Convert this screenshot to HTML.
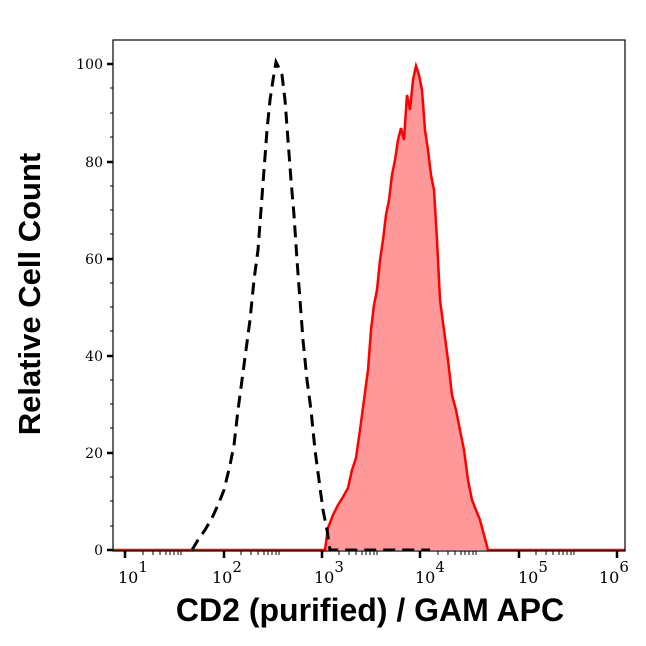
<!DOCTYPE html>
<html><head><style>body{margin:0;background:#fff}</style></head><body>
<svg width="646" height="641" xmlns="http://www.w3.org/2000/svg" font-family="DejaVu Serif, Liberation Serif, serif">
<rect width="646" height="641" fill="#fff"/>
<polygon fill="#ff9999" stroke="none" points="113,550 325,550 328,528 333,515 338,505 343,497 348,488 352,470 356,458 360,430 364,400 368,370 371,330 374,305 377,290 380,260 383,240 386,215 389,200 392,175 395,160 398,140 401,128 404,140 407,95 410,110 413,80 416,66 419,75 422,90 425,130 428,150 431,175 434,190 437,240 440,300 444,330 448,360 452,395 456,410 460,430 464,450 468,480 472,500 476,510 480,520 484,535 488,550 625,550"/>
<polyline fill="none" stroke="#ff0000" stroke-width="2.5" points="113,550 325,550 328,528 333,515 338,505 343,497 348,488 352,470 356,458 360,430 364,400 368,370 371,330 374,305 377,290 380,260 383,240 386,215 389,200 392,175 395,160 398,140 401,128 404,140 407,95 410,110 413,80 416,66 419,75 422,90 425,130 428,150 431,175 434,190 437,240 440,300 444,330 448,360 452,395 456,410 460,430 464,450 468,480 472,500 476,510 480,520 484,535 488,550 625,550"/>
<polyline fill="none" stroke="#000" stroke-width="3" stroke-dasharray="12,7" points="192,550 198,540 205,530 212,518 218,505 224,490 230,465 234,445 238,410 242,380 246,350 250,320 254,280 258,250 261,210 264,170 267,130 270,100 273,80 276,62 279,68 282,75 285,100 288,140 291,180 294,215 297,260 300,300 303,340 307,380 311,410 315,450 319,480 323,510 327,530 330,550 430,550"/>
<rect x="113" y="40" width="512" height="511" fill="none" stroke="#000" stroke-width="1.2"/>
<g stroke="#000" stroke-width="1">
<path d="M107 550H113M107 453H113M107 356H113M107 259H113M107 162H113M107 64H113" stroke-width="2.5"/>
<path d="M110 526H113M110 501H113M110 477H113M110 428H113M110 404H113M110 380H113M110 331H113M110 307H113M110 283H113M110 234H113M110 210H113M110 186H113M110 137H113M110 113H113M110 88H113"/>
<path d="M125 551V558M224 551V558M322 551V558M420 551V558M519 551V558M617 551V558" stroke-width="2.5"/>
<path d="M143 551V555M153 551V555M160 551V555M166 551V555M170 551V555M174 551V555M178 551V555M181 551V555M241 551V555M251 551V555M258 551V555M264 551V555M268 551V555M272 551V555M276 551V555M279 551V555M339 551V555M349 551V555M356 551V555M362 551V555M366 551V555M370 551V555M374 551V555M377 551V555M438 551V555M448 551V555M455 551V555M461 551V555M465 551V555M469 551V555M473 551V555M476 551V555M536 551V555M546 551V555M553 551V555M559 551V555M563 551V555M567 551V555M571 551V555M574 551V555"/>
</g>
<g font-size="14" text-anchor="end">
<text x="103" y="555">0</text><text x="103" y="458">20</text><text x="103" y="361">40</text><text x="103" y="264">60</text><text x="103" y="167">80</text><text x="103" y="69">100</text>
</g>
<g font-size="16">
<text x="118" y="583">10<tspan dy="-11" font-size="15">1</tspan></text>
<text x="212" y="583">10<tspan dy="-11" font-size="15">2</tspan></text>
<text x="314" y="583">10<tspan dy="-11" font-size="15">3</tspan></text>
<text x="415" y="583">10<tspan dy="-11" font-size="15">4</tspan></text>
<text x="518" y="583">10<tspan dy="-11" font-size="15">5</tspan></text>
<text x="599" y="583">10<tspan dy="-11" font-size="15">6</tspan></text>
</g>
<text x="370" y="621" text-anchor="middle" font-family="Liberation Sans, sans-serif" font-weight="bold" font-size="32">CD2 (purified) / GAM APC</text>
<text transform="translate(40,294) rotate(-90)" text-anchor="middle" font-family="Liberation Sans, sans-serif" font-weight="bold" font-size="31">Relative Cell Count</text>
</svg>
</body></html>
